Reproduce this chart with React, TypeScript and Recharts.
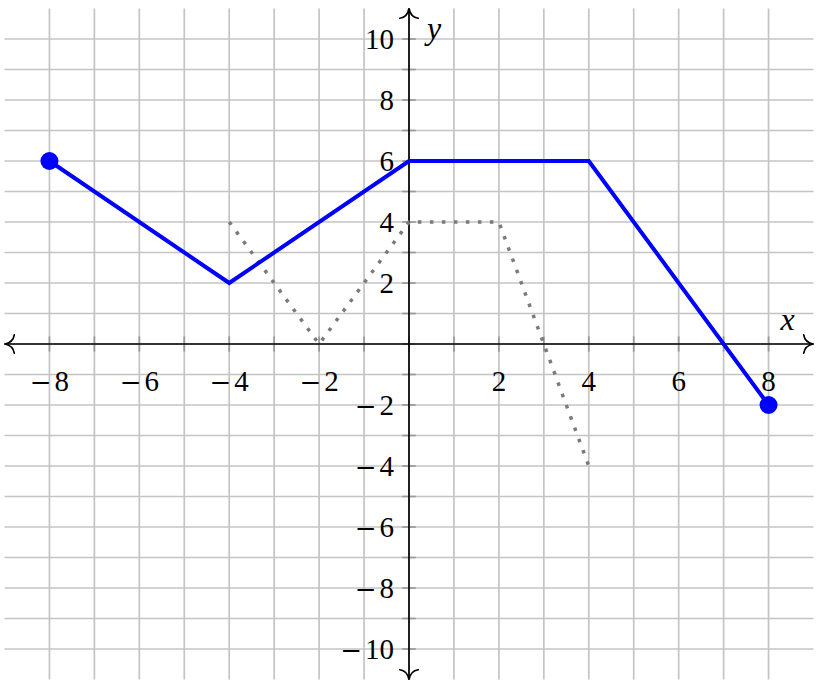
import React from 'react';
import { ComposedChart, Line, XAxis, YAxis, ReferenceLine, Scatter } from 'recharts';

const W = 821;
const H = 688;

const xDomain = [-9, 9];
const yDomain = [-11, 11];

const xGrid = [-8, -7, -6, -5, -4, -3, -2, -1, 0, 1, 2, 3, 4, 5, 6, 7, 8];
const yGrid = [-10, -9, -8, -7, -6, -5, -4, -3, -2, -1, 0, 1, 2, 3, 4, 5, 6, 7, 8, 9, 10];

const xTickLabels = [-8, -6, -4, -2, 2, 4, 6, 8];
const yTickLabels = [-10, -8, -6, -4, -2, 2, 4, 6, 8, 10];

const blueX = [-8, -4, 0, 4, 8];
const blueY = [6, 2, 6, 6, -2];

const grayX = [-4, -2, 0, 2, 4];
const grayY = [4, 0, 4, 4, -4];

const blueData = blueX.map((x, i) => ({ x, y: blueY[i] }));
const grayData = grayX.map((x, i) => ({ x, y: grayY[i] }));

const xLabelData = xTickLabels.map((x) => ({ x, y: 0, label: x }));
const yLabelData = yTickLabels.map((y) => ({ x: 0, y, label: y }));
const xNameData = [{ x: xDomain[1], y: 0, label: 'x' }];
const yNameData = [{ x: 0, y: yDomain[1], label: 'y' }];

const FONT = '"Liberation Serif", "DejaVu Serif", serif';
const MINUS_FONT = '"DejaVu Serif", serif';
const GRID = '#c4c4c4';
const FS = 29;

const NumText = ({ v }: { v: number }) =>
  v < 0 ? (
    <>
      <tspan fontFamily={MINUS_FONT} fontSize={FS - 3}>{'\u2212'}</tspan>
      <tspan dx={3}>{String(Math.abs(v))}</tspan>
    </>
  ) : (
    <>{String(v)}</>
  );

const arrowHead = (tx: number, ty: number, ux: number, uy: number, d: number) => {
  const nx = -uy;
  const ny = ux;
  const pt = (a: number, b: number) => `${tx + ux * a * d + nx * b * d},${ty + uy * a * d + ny * b * d}`;
  return `M${pt(-4.25, 4)} C${pt(-4, 2.25)} ${pt(-2.75, 0.5)} ${pt(0, 0)} C${pt(-2.75, -0.5)} ${pt(-4, -2.25)} ${pt(-4.25, -4)}`;
};

const ArrowAxis = (p: any) => {
  const { x1, y1, x2, y2 } = p;
  const dx = x2 - x1;
  const dy = y2 - y1;
  const len = Math.hypot(dx, dy) || 1;
  const ux = dx / len;
  const uy = dy / len;
  const d = 2.3;
  return (
    <g>
      <line x1={x1} y1={y1} x2={x2} y2={y2} stroke="#000" strokeWidth={1.7} />
      <path d={arrowHead(x2, y2, ux, uy, d)} fill="none" stroke="#000" strokeWidth={1.7} strokeLinecap="round" />
      <path d={arrowHead(x1, y1, -ux, -uy, d)} fill="none" stroke="#000" strokeWidth={1.7} strokeLinecap="round" />
    </g>
  );
};

const XLabel = (p: any) => (
  <text x={p.cx} y={p.cy + 47} textAnchor="middle" fontFamily={FONT} fontSize={FS} fill="#000">
    <NumText v={p.payload.label} />
  </text>
);

const YLabel = (p: any) => (
  <text x={p.cx - 15} y={p.cy + 9.5} textAnchor="end" fontFamily={FONT} fontSize={FS} fill="#000">
    <NumText v={p.payload.label} />
  </text>
);

const XName = (p: any) => (
  <text x={p.cx - 26} y={p.cy - 14} textAnchor="middle" fontFamily={FONT} fontStyle="italic" fontSize={32} fill="#000">
    {p.payload.label}
  </text>
);

const YName = (p: any) => (
  <text x={p.cx + 25} y={p.cy + 30} textAnchor="middle" fontFamily={FONT} fontStyle="italic" fontSize={32} fill="#000">
    {p.payload.label}
  </text>
);

const EndDot = (p: any) => {
  const { cx, cy, index } = p;
  if (index === 0 || index === blueData.length - 1) {
    return <circle key={'d' + index} cx={cx} cy={cy} r={9} fill="#0000ff" stroke="none" />;
  }
  return <g key={'d' + index} />;
};

export default function App() {
  return (
    <div style={{ position: 'absolute', left: 0, top: 0, width: W, height: H, background: '#fff' }}>
      <ComposedChart width={W} height={H} margin={{ top: 8.5, right: 7.5, bottom: 8.5, left: 4.5 }}>
        <XAxis type="number" dataKey="x" domain={xDomain} allowDataOverflow hide />
        <YAxis type="number" dataKey="y" domain={yDomain} allowDataOverflow hide />
        {xGrid.map((v) => (
          <ReferenceLine key={'gx' + v} x={v} stroke={GRID} strokeWidth={1.7} />
        ))}
        {yGrid.map((v) => (
          <ReferenceLine key={'gy' + v} y={v} stroke={GRID} strokeWidth={1.7} />
        ))}
        {xGrid.map((v) => (
          <ReferenceLine
            key={'tx' + v}
            segment={[{ x: v, y: -0.25 }, { x: v, y: 0.25 }]}
            stroke="#9a9a9a"
            strokeWidth={1.7}
          />
        ))}
        {yGrid.map((v) => (
          <ReferenceLine
            key={'ty' + v}
            segment={[{ x: -0.15, y: v }, { x: 0.15, y: v }]}
            stroke="#9a9a9a"
            strokeWidth={1.7}
          />
        ))}
        <ReferenceLine segment={[{ x: xDomain[0], y: 0 }, { x: xDomain[1], y: 0 }]} shape={ArrowAxis} />
        <ReferenceLine segment={[{ x: 0, y: yDomain[0] }, { x: 0, y: yDomain[1] }]} shape={ArrowAxis} />
        <Scatter data={xLabelData} shape={XLabel} isAnimationActive={false} />
        <Scatter data={yLabelData} shape={YLabel} isAnimationActive={false} />
        <Scatter data={xNameData} shape={XName} isAnimationActive={false} />
        <Scatter data={yNameData} shape={YName} isAnimationActive={false} />
        <Line
          data={grayData}
          dataKey="y"
          type="linear"
          stroke="#7a7a7a"
          strokeWidth={3.5}
          strokeDasharray="3.5 8.5"
          dot={false}
          isAnimationActive={false}
        />
        <Line
          data={blueData}
          dataKey="y"
          type="linear"
          stroke="#0000ff"
          strokeWidth={4}
          dot={EndDot}
          isAnimationActive={false}
        />
      </ComposedChart>
    </div>
  );
}
